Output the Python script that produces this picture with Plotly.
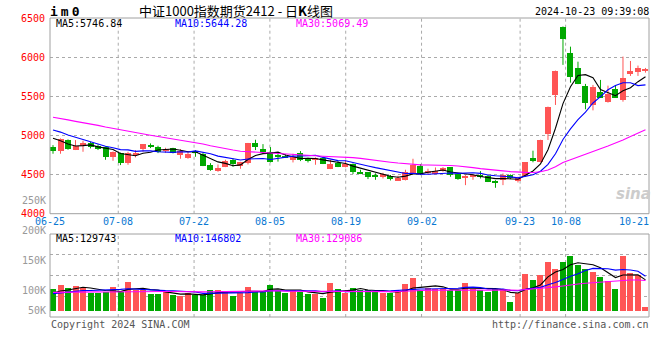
import plotly.graph_objects as go

# ---------------- data ----------------
dates = ["06-25","06-26","06-27","06-28","07-01","07-02","07-03","07-04","07-05",
         "07-08","07-09","07-10","07-11","07-12","07-15","07-16","07-17","07-18","07-19",
         "07-22","07-23","07-24","07-25","07-26","07-29","07-30","07-31","08-01","08-02",
         "08-05","08-06","08-07","08-08","08-09","08-12","08-13","08-14","08-15","08-16",
         "08-19","08-20","08-21","08-22","08-23","08-26","08-27","08-28","08-29","08-30",
         "09-02","09-03","09-04","09-05","09-06","09-09","09-10","09-11","09-12","09-13",
         "09-18","09-19","09-20","09-23","09-24","09-25","09-26","09-27","09-30",
         "10-08","10-09","10-10","10-11","10-14","10-15","10-16","10-17","10-18",
         "10-21","10-22","10-23"]

opens = [4851,4804,4940,4813,4859,4906,4868,4851,4727,
         4774,4651,4757,4825,4881,4851,4796,4834,4749,4710,
         4791,4766,4621,4548,4600,4689,4604,4646,4902,4825,
         4787,4740,4740,4689,4772,4706,4689,4706,4572,4648,
         4595,4634,4532,4532,4485,4472,4476,4421,4434,4514,
         4608,4514,4519,4544,4595,4506,4459,4463,4493,4476,
         4421,4429,4489,4416,4486,4708,4665,5019,5517,
         6390,6058,5866,5632,5390,5560,5431,5594,5453,
         5781,5815,5824]
highs = [4876,4962,4949,4940,4932,4919,4885,4859,4795,
         4780,4791,4812,4889,4898,4868,4842,4842,4825,4791,
         4812,4783,4646,4629,4689,4706,4663,4904,4945,4889,
         4851,4772,4760,4766,4800,4715,4720,4720,4688,4672,
         4682,4642,4562,4532,4515,4523,4494,4485,4561,4702,
         4635,4575,4591,4595,4595,4514,4493,4506,4544,4493,
         4429,4514,4502,4472,4660,4805,4945,5368,5828,
         6392,6134,5942,5658,5645,5709,5636,5636,6007,
         5951,5892,5862]
lows = [4766,4766,4817,4813,4791,4834,4813,4689,4676,
        4621,4625,4719,4791,4838,4774,4778,4770,4702,4702,
        4727,4608,4548,4536,4595,4600,4574,4629,4813,4774,
        4655,4665,4712,4655,4672,4655,4625,4634,4570,4595,
        4592,4506,4506,4442,4433,4450,4425,4421,4425,4514,
        4493,4502,4502,4536,4472,4433,4365,4433,4450,4404,
        4331,4365,4442,4399,4470,4657,4655,4942,5389,
        5901,5674,5655,5334,5320,5483,5419,5483,5431,
        5760,5760,5802]
closes = [4804,4953,4830,4859,4902,4851,4825,4727,4791,
          4646,4774,4762,4889,4855,4791,4825,4774,4804,4766,
          4783,4612,4561,4587,4672,4634,4663,4902,4851,4789,
          4662,4728,4722,4727,4685,4683,4706,4638,4636,4596,
          4634,4536,4510,4467,4475,4502,4438,4450,4536,4617,
          4502,4544,4540,4583,4493,4442,4480,4493,4463,4408,
          4395,4493,4459,4450,4657,4670,4942,5368,5823,
          6229,5751,5658,5419,5623,5483,5530,5483,5730,
          5824,5866,5845]
# volume, thousands of lots
volume_k = [92,109,97,105,96,75,75,78,100,
            78,122,88,88,71,71,82,68,61,75,
            66,67,88,88,84,63,77,100,84,85,
            109,85,76,88,81,70,70,55,119,92,
            74,97,88,88,81,74,74,81,113,140,
            88,95,92,92,88,88,116,92,88,81,
            92,92,36,74,155,130,152,207,179,
            207,233,194,179,164,143,127,92,233,
            160,152,17]
# estimated sessions before 06-25 (only feed the moving averages)
prior_closes = [5380,5410,5420,5370,5375,5370,5355,5345,5340,5330,
                5300,5310,5280,5270,5255,5265,5235,5230,5200,5220,
                5230,5210,5150,5170,5125,5103,5040,4989,4879]
prior_volume_k = [82,85,79,88,76,80,91,84,78,74,
                  86,81,77,83,79,75,88,80,76,73,
                  70,68,74,66,71,64,78,69,72]

label_dates = ["06-25","07-08","07-22","08-05","08-19","09-02","09-23","10-08","10-21"]
grid_dates = ["07-08","07-22","08-05","08-19","09-02","09-23","10-08"]
price_ticks = [4000, 4500, 5000, 5500, 6000, 6500]
vol_labels = ["250K", "200K", "150K", "100K", "50K"]

title_text = "中证1000指数期货2412 - 日<b>K</b>线图"
code_text = "im0"
time_text = "2024-10-23 09:39:08"
price_ma_text = ["MA5:5746.84", "MA10:5644.28", "MA30:5069.49"]
vol_ma_text = ["MA5:129743", "MA10:146802", "MA30:129086"]

n = len(dates)
assert all(len(a) == n for a in (opens, highs, lows, closes, volume_k))

volumes = [v * 1000 for v in volume_k]
prior_volumes = [v * 1000 for v in prior_volume_k]
xs = list(range(n))


def moving_avg(prior, vals, w):
    full = prior + vals
    off = len(prior)
    out = []
    for i in range(n):
        seg = full[off + i - w + 1: off + i + 1]
        out.append(sum(seg) / len(seg))
    return out


RED = "#ff5555"
GREEN = "#00a800"
MA_COLORS = ["#000000", "#0000ff", "#ff00ff"]
MONO = "DejaVu Sans Mono"

# ---------------- pixel layout helpers ----------------
W, H = 660, 360
L, R, T, B = 50, 11, 18, 43
PW, PH = W - L - R, H - T - B
MAIN_BOTTOM_PX, VOL_TOP_PX = 213.7, 234.0
main_dom = [(H - B - MAIN_BOTTOM_PX) / PH, 1.0]
vol_dom = [0.0, (H - B - VOL_TOP_PX) / PH]


def ax(px):
    return (px - L) / PW


def ay(py):
    return (H - B - py) / PH


vol_per_px = 4250
vol_base_px = 310.7
VOL_MIN = -(H - B - vol_base_px) * vol_per_px
VOL_MAX = (vol_base_px - VOL_TOP_PX) * vol_per_px

fig = go.Figure()

# ---------------- candles ----------------
up = [c >= o for o, c in zip(opens, closes)]
colors = [RED if u else GREEN for u in up]
body_base = [min(o, c) for o, c in zip(opens, closes)]
body_h = [max(abs(c - o), 10) for o, c in zip(opens, closes)]

for flag, col in ((True, RED), (False, GREEN)):
    wx, wy = [], []
    for i in xs:
        if up[i] == flag:
            wx += [i, i, None]
            wy += [lows[i], highs[i], None]
    fig.add_trace(go.Scatter(x=wx, y=wy, mode="lines", line=dict(color=col, width=1),
                             xaxis="x", yaxis="y", hoverinfo="skip"))

fig.add_trace(go.Bar(x=xs, y=body_h, base=body_base, width=0.8,
                     marker=dict(color=colors, line=dict(width=0)),
                     xaxis="x", yaxis="y", hoverinfo="skip"))

for w, col in zip((5, 10, 30), MA_COLORS):
    fig.add_trace(go.Scatter(x=xs, y=moving_avg(prior_closes, closes, w), mode="lines",
                             line=dict(color=col, width=1.1), xaxis="x", yaxis="y",
                             hoverinfo="skip"))

# ---------------- volume ----------------
fig.add_trace(go.Bar(x=xs, y=volumes, width=0.8,
                     marker=dict(color=colors, line=dict(width=0)),
                     xaxis="x2", yaxis="y2", hoverinfo="skip"))
for w, col in zip((5, 10, 30), MA_COLORS):
    fig.add_trace(go.Scatter(x=xs, y=moving_avg(prior_volumes, volumes, w), mode="lines",
                             line=dict(color=col, width=1.1), xaxis="x2", yaxis="y2",
                             hoverinfo="skip"))

# ---------------- shapes: grid + frames ----------------
shapes = []
for d in grid_dates:
    gx = dates.index(d) / (n - 1)
    for dom in (main_dom, vol_dom):
        shapes.append(dict(type="line", xref="paper", yref="paper", x0=gx, x1=gx,
                           y0=dom[0], y1=dom[1], layer="below",
                           line=dict(color="#aaaaaa", width=1, dash="dot")))
for dom in (main_dom, vol_dom):
    shapes.append(dict(type="rect", xref="paper", yref="paper", x0=0, x1=1,
                       y0=dom[0], y1=dom[1], layer="above",
                       line=dict(color="#a0a0a0", width=1)))

# ---------------- annotations ----------------
ann = []


def text(px, py, s, color="#000", size=10, anchor="left", family=MONO):
    ann.append(dict(x=ax(px), y=ay(py), xref="paper", yref="paper", text=s,
                    showarrow=False, xanchor=anchor, yanchor="middle",
                    font=dict(family=family, size=size, color=color), borderpad=0))


text(49, 11.5, '<b><span style="letter-spacing:3px">' + code_text + '</span></b>', size=13)
text(236, 10.5, title_text, size=13, anchor="center", family="Noto Sans CJK SC")
text(650, 11.5, time_text, anchor="right")
for s, col, px in zip(price_ma_text, MA_COLORS, (55, 174, 295)):
    text(px, 24, s, color=col)
for s, col, px in zip(vol_ma_text, MA_COLORS, (55, 174, 295)):
    text(px, 239, s, color=col)
for d in label_dates:
    lx = L + PW * dates.index(d) / (n - 1)
    text(lx, 221.5, d, color="#0a78d2", anchor="center")
for s, py in zip(vol_labels, (200, 230, 260, 290, 310)):
    text(46.5, py, s, color="#999999", anchor="right")
text(50, 324, "Copyright 2024 SINA.COM", color="#555555")
text(650, 324, "http://finance.sina.com.cn", color="#555555", anchor="right")
text(633, 194, "<b><i>sina</i></b>", color="#cccccc", size=15, anchor="center",
     family="DejaVu Sans")

vq = [VOL_MIN + (VOL_MAX - VOL_MIN) * k / 4 for k in (1, 2, 3)]

fig.update_layout(
    width=W, height=H, margin=dict(l=L, r=R, t=T, b=B, autoexpand=False),
    paper_bgcolor="white", plot_bgcolor="white", showlegend=False,
    bargap=0, hovermode=False,
    xaxis=dict(domain=[0, 1], range=[-0.4, n - 1 + 0.47], showgrid=False, zeroline=False,
               showticklabels=False, anchor="y", fixedrange=True, automargin=False),
    yaxis=dict(domain=main_dom, range=[4000, 6500], tickvals=price_ticks,
               showgrid=True, gridcolor="#aaaaaa", griddash="dot", gridwidth=1,
               zeroline=False, ticks="", tickfont=dict(family=MONO, size=10, color="#ff0000"),
               ticklabelstandoff=4, anchor="x", automargin=False),
    xaxis2=dict(domain=[0, 1], matches="x", showgrid=False, zeroline=False,
                showticklabels=False, anchor="y2", automargin=False),
    yaxis2=dict(domain=vol_dom, range=[VOL_MIN, VOL_MAX], tickvals=vq,
                showgrid=True, gridcolor="#aaaaaa", griddash="dot", gridwidth=1,
                zeroline=False, showticklabels=False, ticks="", anchor="x2",
                automargin=False),
    shapes=shapes, annotations=ann,
)

fig.write_html("out.html", config={"displayModeBar": False},
               post_script="document.body.style.margin='0px';")
